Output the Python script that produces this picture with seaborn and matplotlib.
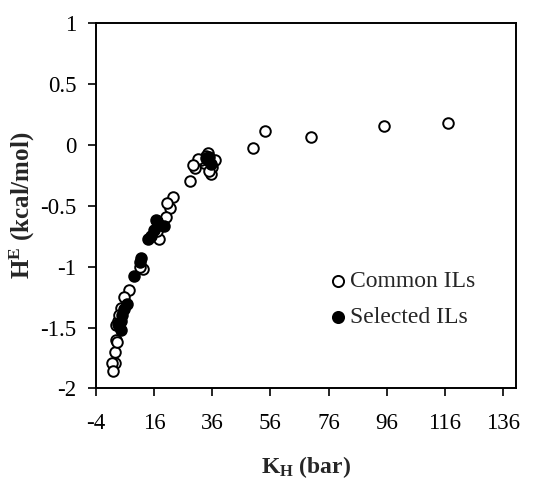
import matplotlib
matplotlib.use("Agg")
import matplotlib.pyplot as plt
import seaborn as sns
import pandas as pd

# Common ILs (open circles)
common_kh = [117, 95, 70, 54, 50, 37, 35.5, 34.5, 34, 33, 32, 31, 30, 29.5, 28.5,
             36, 35, 22.5, 21.5, 20.5, 20, 17.5, 16.5, 17, 12, 11, 7.5, 5.5, 4.5,
             3.5, 3, 2.5, 2.5, 1.5, 2, 3.2, 4, 3]
common_he = [0.18, 0.15, 0.06, 0.11, -0.03, -0.13, -0.24, -0.07, -0.09, -0.15, -0.13,
             -0.12, -0.19, -0.17, -0.30, -0.18, -0.22, -0.43, -0.52, -0.48, -0.59,
             -0.77, -0.62, -0.71, -1.02, -1.00, -1.19, -1.25, -1.34, -1.45, -1.60,
             -1.70, -1.79, -1.79, -1.86, -1.62, -1.40, -1.48]

# Selected ILs (filled circles)
selected_kh = [35, 34.5, 35.5, 34, 19.5, 17, 16, 15, 14, 17.5, 11.5, 11.3, 9, 6.5,
               5.5, 5, 4.5, 4, 4.5, 3.5]
selected_he = [-0.10, -0.13, -0.16, -0.11, -0.67, -0.63, -0.70, -0.75, -0.77, -0.66,
               -0.93, -0.96, -1.08, -1.31, -1.35, -1.40, -1.45, -1.49, -1.52, -1.47]

x_ticks = [-4, 16, 36, 56, 76, 96, 116, 136]
y_ticks = [-2, -1.5, -1, -0.5, 0, 0.5, 1]
y_tick_labels = ["-2", "-1.5", "-1", "-0.5", "0", "0.5", "1"]

sns.set_style("white")
plt.rcParams["font.family"] = ["Liberation Serif", "DejaVu Serif"]
plt.rcParams["mathtext.fontset"] = "custom"
plt.rcParams["mathtext.rm"] = "Liberation Serif"
plt.rcParams["mathtext.bf"] = "Liberation Serif:bold"
plt.rcParams["mathtext.it"] = "Liberation Serif:italic"

df_c = pd.DataFrame({"KH": common_kh, "HE": common_he})
df_s = pd.DataFrame({"KH": selected_kh, "HE": selected_he})

fig = plt.figure(figsize=(5.44, 4.79), dpi=100)
ax = fig.add_axes([0.1765, 0.189, 0.772, 0.7636])

sns.scatterplot(data=df_c, x="KH", y="HE", ax=ax, marker="o", s=58,
                facecolor="white", edgecolor="black", linewidth=1.4,
                label="Common ILs", zorder=3)
sns.scatterplot(data=df_s, x="KH", y="HE", ax=ax, marker="o", s=58,
                facecolor="black", edgecolor="black", linewidth=1.4,
                label="Selected ILs", zorder=4)

ax.set_xlim(-4, 140.5)
ax.set_ylim(-2, 1)
ax.set_xticks(x_ticks)
ax.set_xticklabels([str(t) for t in x_ticks])
ax.set_yticks(y_ticks)
ax.set_yticklabels(y_tick_labels)
ax.tick_params(axis="both", direction="out", length=6, width=1.2,
               labelsize=16.5, colors="black")
ax.tick_params(axis="x", pad=12)
ax.tick_params(axis="y", pad=8)
ax.tick_params(left=True, bottom=True)
for sp in ax.spines.values():
    sp.set_visible(True)
    sp.set_color("black")
    sp.set_linewidth(1.4)

ax.set_xlabel(r"$\mathbf{K_H}$ (bar)", fontsize=17, fontweight="bold")
ax.set_ylabel(r"$\mathbf{H^E}$ (kcal/mol)", fontsize=18, fontweight="bold")
ax.xaxis.set_label_coords(0.5, -0.178)
ax.yaxis.set_label_coords(-0.14, 0.5)

ax.legend(loc="center left", bbox_to_anchor=(0.556, 0.243), frameon=False,
          fontsize=17, handletextpad=0.15, labelspacing=0.62, borderaxespad=0,
          borderpad=0, handlelength=0.7, markerscale=1.05)

fig.savefig("out.png", dpi=100)
